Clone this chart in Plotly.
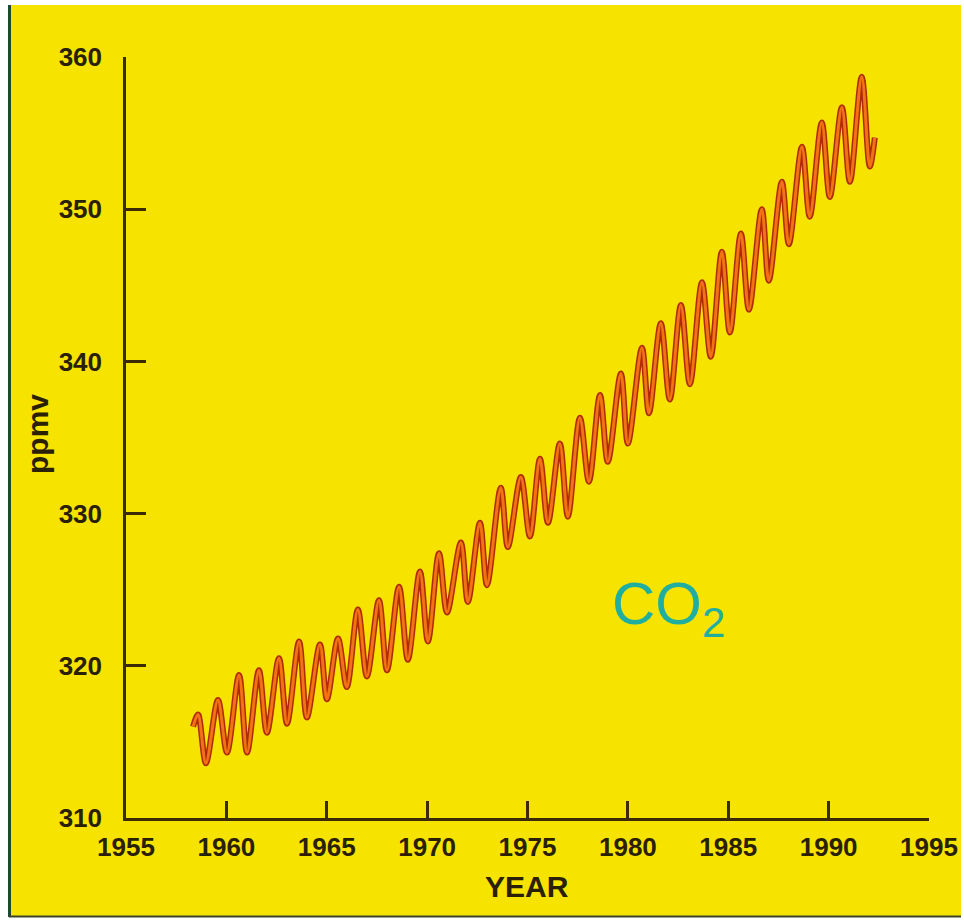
import plotly.graph_objects as go

# Seasonal extremes of the curve (decimal year, ppmv)
years = [1958.34, 1958.59, 1958.98, 1959.58, 1960.03, 1960.63, 1961.03, 1961.62,
         1962.02, 1962.62, 1963.02, 1963.62, 1964.01, 1964.66, 1965.01, 1965.56,
         1966.00, 1966.55, 1967.00, 1967.60, 1968.00, 1968.60, 1969.04, 1969.64,
         1970.04, 1970.59, 1970.99, 1971.68, 1972.03, 1972.63, 1972.98, 1973.67,
         1974.02, 1974.67, 1975.12, 1975.62, 1976.02, 1976.61, 1977.01, 1977.61,
         1978.06, 1978.61, 1979.00, 1979.65, 1980.00, 1980.70, 1981.05, 1981.64,
         1982.09, 1982.64, 1983.09, 1983.69, 1984.13, 1984.68, 1985.08, 1985.63,
         1986.03, 1986.67, 1987.02, 1987.67, 1988.02, 1988.67, 1989.06, 1989.66,
         1990.06, 1990.66, 1991.06, 1991.65, 1992.05, 1992.30]
co2 = [316.0, 316.8, 313.6, 317.75, 314.3, 319.4, 314.3, 319.7,
       315.6, 320.5, 316.2, 321.6, 316.6, 321.4, 317.8, 321.8,
       318.6, 323.7, 319.3, 324.3, 319.7, 325.2, 320.4, 326.2,
       321.6, 327.4, 323.5, 328.1, 324.2, 329.4, 325.3, 331.7,
       327.8, 332.4, 328.5, 333.6, 329.4, 334.6, 329.8, 336.3,
       332.1, 337.8, 333.4, 339.2, 334.6, 340.9, 336.6, 342.5,
       337.5, 343.7, 338.5, 345.2, 340.3, 347.2, 341.9, 348.4,
       343.4, 350.0, 345.3, 351.8, 347.7, 354.1, 349.5, 355.7,
       350.8, 356.7, 351.8, 358.7, 352.8, 354.7]

x_ticks = [1955, 1960, 1965, 1970, 1975, 1980, 1985, 1990, 1995]
y_ticks = [310, 320, 330, 340, 350, 360]

W, H = 964, 920
ML, MR, MT, MB = 126, 35, 57, 102
PW, PH = W - ML - MR, H - MT - MB


def px(x):
    return (x - ML) / PW


def py(y):
    return (H - MB - y) / PH


YELLOW = "#f6e300"
AXIS = "#3a2a05"
TXT = "#2a2005"
FONT = "Liberation Sans, Arial, sans-serif"

fig = go.Figure()
fig.add_trace(go.Scatter(x=years, y=co2, mode="lines",
                         line=dict(color="#b02a06", width=6, shape="spline", smoothing=0.9),
                         hoverinfo="skip", showlegend=False))
fig.add_trace(go.Scatter(x=years, y=co2, mode="lines",
                         line=dict(color="#f07416", width=3, shape="spline", smoothing=0.9),
                         name="CO2", showlegend=False))

shapes = [
    dict(type="rect", xref="paper", yref="paper", layer="below",
         x0=px(9), x1=px(961), y0=py(917), y1=py(5),
         fillcolor=YELLOW, line=dict(width=0)),
    dict(type="line", xref="paper", yref="paper", layer="below",
         x0=px(9.5), x1=px(9.5), y0=py(917), y1=py(5),
         line=dict(color="#1f4a2c", width=3)),
    dict(type="line", xref="paper", yref="paper", layer="below",
         x0=px(9), x1=px(961), y0=py(916.5), y1=py(916.5),
         line=dict(color="#3a4424", width=2)),
]

annotations = [
    dict(text="<b>ppmv</b>", xref="paper", yref="paper", x=px(37), y=py(434),
         xanchor="center", yanchor="middle", textangle=-90, showarrow=False,
         font=dict(family=FONT, size=30, color=TXT)),
    dict(text="<b>YEAR</b>", xref="paper", yref="paper", x=px(527), y=py(886),
         xanchor="center", yanchor="middle", showarrow=False,
         font=dict(family=FONT, size=30, color=TXT)),
    dict(text="CO<sub>2</sub>", xref="paper", yref="paper", x=px(610), y=py(608),
         xanchor="left", yanchor="middle", showarrow=False,
         font=dict(family=FONT, size=60, color="#1fae9f")),
]

fig.update_layout(
    width=W, height=H,
    margin=dict(l=ML, r=MR, t=MT, b=MB, autoexpand=False),
    paper_bgcolor="white",
    plot_bgcolor="rgba(0,0,0,0)",
    shapes=shapes,
    annotations=annotations,
    showlegend=False,
    xaxis=dict(range=[1955, 1995], tickvals=x_ticks, ticktext=[str(v) for v in x_ticks],
               showline=True, linecolor=AXIS, linewidth=2.5, mirror=False,
               ticks="inside", ticklen=17, tickwidth=2.5, tickcolor=AXIS,
               showgrid=False, zeroline=False, ticklabelstandoff=4,
               tickfont=dict(family=FONT, size=26, color=TXT, weight="bold")),
    yaxis=dict(range=[310, 360], tickvals=y_ticks, ticktext=[str(v) for v in y_ticks],
               showline=True, linecolor=AXIS, linewidth=2.5, mirror=False,
               ticks="inside", ticklen=20, tickwidth=2.5, tickcolor=AXIS,
               showgrid=False, zeroline=False, ticklabelstandoff=16,
               tickfont=dict(family=FONT, size=26, color=TXT, weight="bold")),
)

fig.write_html("out.html", config={"displayModeBar": False},
               post_script="document.body.style.margin='0';document.body.style.overflow='hidden';")
